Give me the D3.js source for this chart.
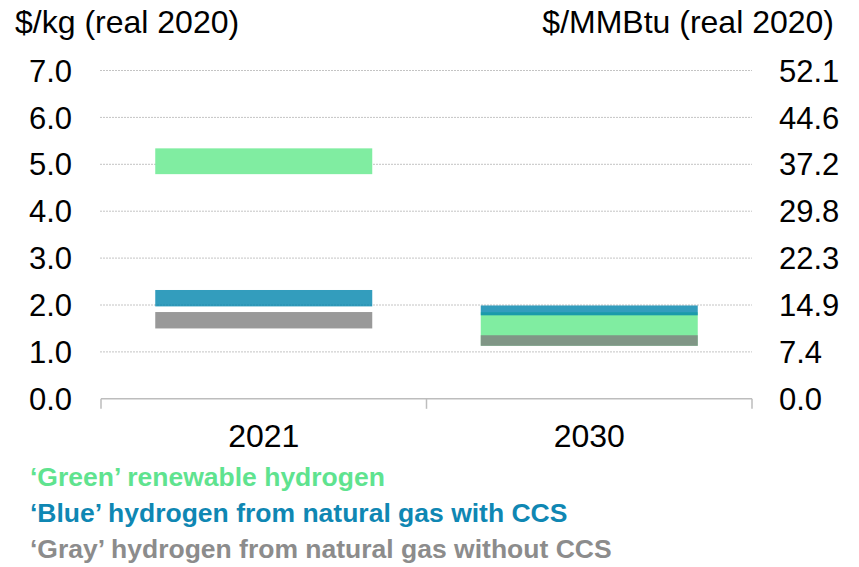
<!DOCTYPE html>
<html>
<head>
<meta charset="utf-8">
<script src="https://cdn.jsdelivr.net/npm/d3@7"></script>
<style>
  body { margin: 0; background: #fff; }
  text { font-family: "Liberation Sans", Arial, sans-serif; }
</style>
</head>
<body>
<div id="chart"></div>
<script>
// data
var categories = ['2021', '2030']
var greenLow  = [4.79, 1.13]
var greenHigh = [5.34, 1.845]
var blueLow   = [1.97, 1.78]
var blueHigh  = [2.32, 1.99]
var grayLow   = [1.50, 1.13]
var grayHigh  = [1.85, 1.355]
var leftTicks  = [0, 1, 2, 3, 4, 5, 6, 7]
var rightTicks = ['0.0', '7.4', '14.9', '22.3', '29.8', '37.2', '44.6', '52.1']
var legendLabels = [
  '\u2018Green\u2019 renewable hydrogen',
  '\u2018Blue\u2019 hydrogen from natural gas with CCS',
  '\u2018Gray\u2019 hydrogen from natural gas without CCS'
]

var width = 859, height = 567
var plot = {left: 101, right: 752, top: 70.5, bottom: 398.8}

var svg = d3.select('#chart').append('svg')
  .attr('width', width)
  .attr('height', height)

var x = d3.scaleBand().domain(categories).range([plot.left, plot.right]).padding(0)
var y = d3.scaleLinear().domain([0, 7]).range([plot.bottom, plot.top])
var barW = x.bandwidth() * 2 / 3

// gridlines
svg.append('g').selectAll('line')
  .data(leftTicks.filter(function(d) { return d > 0 }))
  .enter().append('line')
    .attr('x1', plot.left - 1)
    .attr('x2', plot.right)
    .attr('y1', function(d) { return y(d) })
    .attr('y2', function(d) { return y(d) })
    .attr('stroke', '#c4c4c4')
    .attr('stroke-width', 1)
    .attr('stroke-dasharray', '2,1')

// baseline + category ticks
svg.append('line')
  .attr('x1', plot.left).attr('x2', plot.right)
  .attr('y1', y(0)).attr('y2', y(0))
  .attr('stroke', '#bdbdbd').attr('stroke-width', 1.5)
var bounds = categories.map(function(c) { return x(c) }).concat([plot.right])
svg.append('g').selectAll('line')
  .data(bounds)
  .enter().append('line')
    .attr('x1', function(d) { return d }).attr('x2', function(d) { return d })
    .attr('y1', y(0)).attr('y2', y(0) + 10)
    .attr('stroke', '#bdbdbd').attr('stroke-width', 1.5)

// floating range bars
var series = [
  {low: greenLow, high: greenHigh, fill: 'rgb(128,237,161)', op: 1},
  {low: blueLow,  high: blueHigh,  fill: 'rgb(0,133,173)',   op: 0.8},
  {low: grayLow,  high: grayHigh,  fill: 'rgb(127,127,127)', op: 0.8}
]
series.forEach(function(s) {
  svg.append('g').selectAll('rect')
    .data(categories)
    .enter().append('rect')
      .attr('x', function(d) { return x(d) + (x.bandwidth() - barW) / 2 })
      .attr('width', barW)
      .attr('y', function(d, i) { return y(s.high[i]) })
      .attr('height', function(d, i) { return y(s.low[i]) - y(s.high[i]) })
      .attr('fill', s.fill)
      .attr('fill-opacity', s.op)
})

// left axis labels
svg.append('g').selectAll('text')
  .data(leftTicks)
  .enter().append('text')
    .attr('x', 72)
    .attr('y', function(d) { return y(d) })
    .attr('dy', '0.36em')
    .attr('text-anchor', 'end')
    .style('font-size', '31px')
    .attr('fill', '#000')
    .text(function(d) { return d.toFixed(1) })

// right axis labels
svg.append('g').selectAll('text')
  .data(rightTicks)
  .enter().append('text')
    .attr('x', 779)
    .attr('y', function(d, i) { return y(leftTicks[i]) })
    .attr('dy', '0.36em')
    .attr('text-anchor', 'start')
    .style('font-size', '31px')
    .attr('fill', '#000')
    .text(function(d) { return d })

// axis titles
svg.append('text')
  .attr('x', 15).attr('y', 33)
  .style('font-size', '32px')
  .text('$/kg (real 2020)')
svg.append('text')
  .attr('x', 834).attr('y', 33)
  .attr('text-anchor', 'end')
  .style('font-size', '32px')
  .text('$/MMBtu (real 2020)')

// category labels
svg.append('g').selectAll('text')
  .data(categories)
  .enter().append('text')
    .attr('x', function(d) { return x(d) + x.bandwidth() / 2 })
    .attr('y', 447)
    .attr('text-anchor', 'middle')
    .style('font-size', '32px')
    .text(function(d) { return d })

// legend
var legendColors = ['#5fe38f', '#0f87b3', '#8c8c8c']
svg.append('g').selectAll('text')
  .data(legendLabels)
  .enter().append('text')
    .attr('x', 30)
    .attr('y', function(d, i) { return 485.5 + i * 36.4 })
    .style('font-size', '26.5px')
    .style('font-weight', 'bold')
    .attr('fill', function(d, i) { return legendColors[i] })
    .text(function(d) { return d })
</script>
</body>
</html>
